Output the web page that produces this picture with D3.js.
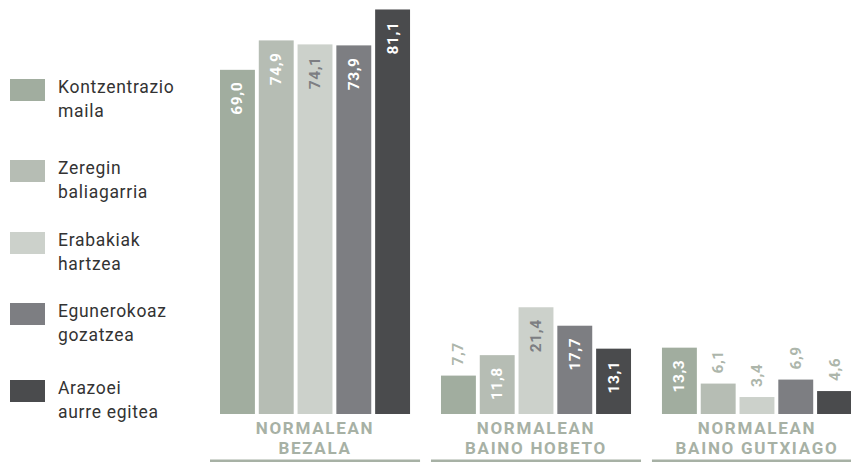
<!DOCTYPE html>
<html>
<head>
<meta charset="utf-8">
<script src="https://cdn.jsdelivr.net/npm/d3@7"></script>
<style>
  body { margin: 0; background: #fff; }
  svg { display: block; }
</style>
</head>
<body>
<div id="chart"></div>
<script>
const width = 851;
const height = 462;

// data
const categories = ["NORMALEAN|BEZALA", "NORMALEAN|BAINO HOBETO", "NORMALEAN|BAINO GUTXIAGO"];
const seriesNames = ["Kontzentrazio|maila", "Zeregin|baliagarria", "Erabakiak|hartzea", "Egunerokoaz|gozatzea", "Arazoei|aurre egitea"];
const seriesColors = ["#a1ad9f", "#b6bdb4", "#ccd1cb", "#7d7e82", "#4a4b4d"];
const labelColors = ["#fff", "#fff", "#7d7e82", "#fff", "#fff"];
const kontzentrazio = [69.0, 7.7, 13.3];
const zeregin = [74.9, 11.8, 6.1];
const erabakiak = [74.1, 21.4, 3.4];
const egunerokoaz = [73.9, 17.7, 6.9];
const arazoei = [81.1, 13.1, 4.6];
const seriesValues = [kontzentrazio, zeregin, erabakiak, egunerokoaz, arazoei];

// legend item tops (layout)
const legendTops = [79, 160, 232, 303, 380];

const svg = d3.select("#chart").append("svg")
  .attr("width", width)
  .attr("height", height);

const x0 = d3.scaleBand()
  .domain(categories)
  .range([220, 852])
  .paddingInner(0.14)
  .paddingOuter(0);

const x1 = d3.scaleBand()
  .domain(d3.range(seriesNames.length))
  .range([0, x0.bandwidth()])
  .paddingInner(0.1);

const y = d3.scaleLinear().domain([0, 83]).range([414, 0]);

const fmt = (v) => v.toFixed(1).replace(".", ",");

const groups = svg.selectAll(".group")
  .data(categories)
  .enter()
  .append("g")
  .attr("class", "group")
  .attr("transform", (d) => `translate(${x0(d)},0)`);

groups.each(function (cat, ci) {
  const g = d3.select(this);
  const rows = seriesValues.map((vals, si) => ({ si: si, v: vals[ci] }));

  g.selectAll("rect")
    .data(rows)
    .enter()
    .append("rect")
    .attr("x", (d) => x1(d.si))
    .attr("y", (d) => y(d.v))
    .attr("width", x1.bandwidth())
    .attr("height", (d) => y(0) - y(d.v))
    .style("fill", (d) => seriesColors[d.si]);

  // value labels, rotated
  g.selectAll(".val")
    .data(rows)
    .enter()
    .append("text")
    .attr("class", "val")
    .attr("transform", (d) => {
      const cx = x1(d.si) + x1.bandwidth() / 2 + 5;
      const inside = d.v >= 10;
      const yy = inside ? y(d.v) + 12 : y(d.v) - 10;
      return `translate(${cx},${yy}) rotate(-90)`;
    })
    .attr("text-anchor", (d) => (d.v >= 10 ? "end" : "start"))
    .style("font-family", "Roboto, 'DejaVu Sans', sans-serif")
    .style("font-weight", "bold")
    .style("font-size", "15.5px")
    .style("letter-spacing", "0.6px")
    .style("fill", (d) => (d.v >= 10 ? labelColors[d.si] : "#adb6ab"))
    .text((d) => fmt(d.v));

  // category label
  const lines = cat.split("|");
  g.selectAll(".cat")
    .data(lines)
    .enter()
    .append("text")
    .attr("class", "cat")
    .attr("x", x0.bandwidth() / 2)
    .attr("y", (d, i) => 434 + i * 20)
    .attr("text-anchor", "middle")
    .style("font-family", "Roboto, 'DejaVu Sans', sans-serif")
    .style("font-weight", "bold")
    .style("font-size", "17px")
    .style("letter-spacing", "1.7px")
    .style("fill", "#a7b1a5")
    .text((d) => d);

  g.append("rect")
    .attr("x", -10)
    .attr("y", 459.5)
    .attr("width", x0.bandwidth() + 20)
    .attr("height", 2.5)
    .style("fill", "#a7b1a5");
});

// legend
const legend = svg.append("g").attr("class", "legend");
const items = legend.selectAll(".item")
  .data(seriesNames)
  .enter()
  .append("g")
  .attr("class", "item")
  .attr("transform", (d, i) => `translate(10,${legendTops[i]})`);

items.append("rect")
  .attr("width", 35)
  .attr("height", 22)
  .style("fill", (d, i) => seriesColors[i]);

items.each(function (name) {
  d3.select(this).selectAll("text")
    .data(name.split("|"))
    .enter()
    .append("text")
    .attr("x", 48)
    .attr("y", (d, i) => 14 + i * 24)
    .style("font-family", "Roboto, 'DejaVu Sans', sans-serif")
    .style("font-size", "17.5px")
    .style("letter-spacing", "0.7px")
    .style("fill", "#333")
    .text((d) => d);
});
</script>
</body>
</html>
